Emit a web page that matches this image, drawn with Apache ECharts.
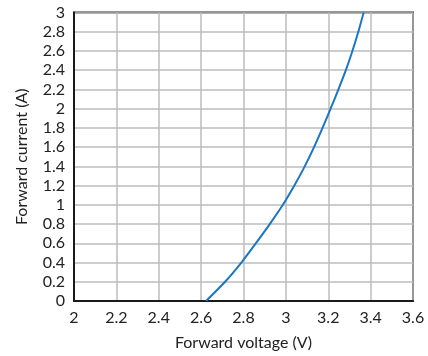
<!DOCTYPE html>
<html>
<head>
<meta charset="utf-8">
<script src="https://cdn.jsdelivr.net/npm/echarts@6/dist/echarts.min.js"></script>
<style>
  html, body { margin: 0; padding: 0; background: #fff; }
  #chart { width: 428px; height: 356px; }
</style>
</head>
<body>
<div id="chart"></div>
<script>
// LED forward characteristic: forward voltage (V) versus forward current (A)
const forwardVoltage = [2.623, 2.713, 2.790, 2.858, 2.924, 2.986, 3.040, 3.089, 3.133, 3.173, 3.211, 3.248, 3.283, 3.314, 3.342, 3.367];
const forwardCurrent = [0, 0.2, 0.4, 0.6, 0.8, 1.0, 1.2, 1.4, 1.6, 1.8, 2.0, 2.2, 2.4, 2.6, 2.8, 3.0];

const xAxisRange = { min: 2, max: 3.6, step: 0.2 };
const yAxisRange = { min: 0, max: 3, step: 0.2 };

const fontFamily = 'Lato, "Open Sans", sans-serif';
const tickFormatter = v => String(Math.round(v * 10) / 10);

const chart = echarts.init(document.getElementById('chart'), null, { renderer: 'canvas' });

chart.setOption({
  animation: false,
  backgroundColor: '#ffffff',
  grid: {
    left: 74, right: 15, top: 12.5, bottom: 53.5,
    show: true,
    borderColor: '#2b2b2b',
    borderWidth: 2
  },
  xAxis: {
    type: 'value',
    min: xAxisRange.min, max: xAxisRange.max, interval: xAxisRange.step,
    name: 'Forward voltage (V)',
    nameLocation: 'middle',
    nameGap: 34,
    nameTextStyle: { fontFamily, fontSize: 16, color: '#222' },
    axisLine: { show: true, onZero: false, lineStyle: { color: '#1a1a1a', width: 2 } },
    axisTick: { show: false },
    axisLabel: { fontFamily, fontSize: 16, color: '#222', margin: 9, formatter: tickFormatter },
    splitLine: { show: true, lineStyle: { color: '#bdbdbd', width: 1.5 } }
  },
  yAxis: {
    type: 'value',
    min: yAxisRange.min, max: yAxisRange.max, interval: yAxisRange.step,
    name: 'Forward current (A)',
    nameLocation: 'middle',
    nameGap: 44,
    nameTextStyle: { fontFamily, fontSize: 16, color: '#222' },
    axisLine: { show: true, onZero: false, lineStyle: { color: '#1a1a1a', width: 2 } },
    axisTick: { show: false },
    axisLabel: { fontFamily, fontSize: 16, color: '#222', margin: 9, formatter: tickFormatter },
    splitLine: { show: true, lineStyle: { color: '#bdbdbd', width: 1.5 } }
  },
  series: [{
    type: 'line',
    data: forwardVoltage.map((v, i) => [v, forwardCurrent[i]]),
    smooth: 0.3,
    showSymbol: false,
    lineStyle: { color: '#1a76c6', width: 2 },
    clip: true
  }]
});
</script>
</body>
</html>
